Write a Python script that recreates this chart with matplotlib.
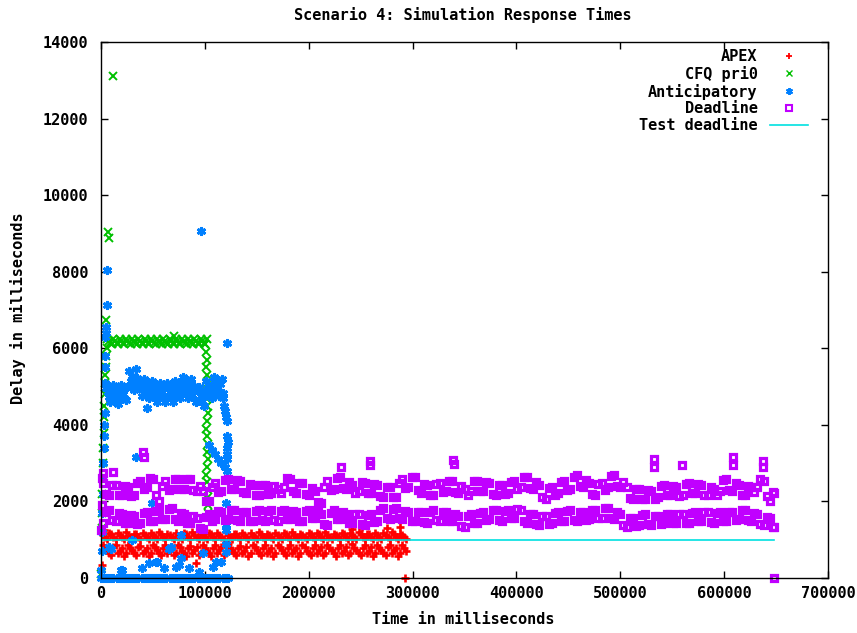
import numpy as np
import matplotlib
matplotlib.use('Agg')
from matplotlib import pyplot as plt
from matplotlib.lines import Line2D

# times are in thousands of milliseconds, delays in milliseconds

# APEX: two bands up to ~295 s, plus a few stragglers
apex_t_k = [2, 6, 10, 14, 18, 22, 26, 30, 34, 38,
            42, 46, 50, 54, 58, 62, 66, 70, 74, 78,
            82, 86, 90, 94, 98, 102, 106, 110, 114, 118,
            122, 126, 130, 134, 138, 142, 146, 150, 154, 158,
            162, 166, 170, 174, 178, 182, 186, 190, 194, 198,
            202, 206, 210, 214, 218, 222, 226, 230, 234, 238,
            242, 246, 250, 254, 258, 262, 266, 270, 274, 278,
            282, 286, 290, 294]
apex_lo = [860, 720, 590, 850, 700, 580, 870, 730, 600, 840,
           710, 570, 860, 720, 590, 850, 740, 600, 870, 710,
           580, 840, 730, 590, 860, 700, 570, 850, 720, 600,
           880, 730, 590, 840, 710, 580, 860, 720, 600, 850,
           700, 570, 870, 730, 590, 850, 720, 580, 860, 710,
           600, 870, 740, 590, 850, 720, 580, 860, 700, 590,
           880, 730, 600, 850, 710, 570, 860, 720, 590, 870,
           730, 580, 850, 700]
apex_hi = [1120, 1020, 1140, 1010, 1130, 1030, 1110, 1020, 1140, 1010,
           1130, 1020, 1120, 1030, 1140, 1010, 1130, 1020, 1110, 1030,
           1140, 1020, 1130, 1010, 1120, 1030, 1140, 1020, 1130, 1010,
           1120, 1030, 1140, 1020, 1130, 1010, 1110, 1030, 1140, 1020,
           1130, 1020, 1120, 1010, 1140, 1030, 1130, 1020, 1120, 1010,
           1140, 1030, 1150, 1020, 1130, 1010, 1120, 1030, 1140, 1020,
           1130, 1010, 1150, 1030, 1140, 1020, 1130, 1010, 1120, 1030,
           1140, 1020, 1130, 1010]
apex_t2_k = [4, 8, 12, 16, 20, 24, 28, 32, 36, 40,
             44, 48, 52, 56, 60, 64, 68, 72, 76, 80,
             84, 88, 92, 96, 100, 104, 108, 112, 116, 120,
             124, 128, 132, 136, 140, 144, 148, 152, 156, 160,
             164, 168, 172, 176, 180, 184, 188, 192, 196, 200,
             204, 208, 212, 216, 220, 224, 228, 232, 236, 240,
             244, 248, 252, 256, 260, 264, 268, 272, 276, 280,
             284, 288, 292]
apex_lo2 = [790, 650, 800, 640, 780, 660, 790, 650, 810, 640,
            780, 650, 800, 660, 790, 640, 780, 650, 800, 660,
            790, 640, 810, 650, 780, 660, 790, 650, 800, 640,
            790, 660, 780, 650, 800, 640, 810, 650, 790, 660,
            780, 640, 800, 650, 790, 660, 780, 650, 810, 640,
            790, 650, 800, 660, 780, 640, 790, 650, 800, 660,
            790, 640, 780, 650, 810, 660, 790, 640, 800, 650,
            780, 660, 790]
apex_hi2 = [1070, 1180, 1060, 1170, 1080, 1190, 1070, 1160, 1080, 1180,
            1060, 1170, 1070, 1190, 1080, 1160, 1070, 1180, 1060, 1170,
            1080, 1190, 1070, 1160, 1080, 1180, 1060, 1170, 1070, 1190,
            1080, 1160, 1070, 1180, 1060, 1170, 1080, 1190, 1070, 1160,
            1080, 1180, 1060, 1170, 1070, 1190, 1080, 1160, 1070, 1180,
            1060, 1170, 1080, 1190, 1070, 1160, 1080, 1180, 1060, 1170,
            1070, 1190, 1080, 1160, 1070, 1180, 1060, 1170, 1080, 1190,
            1070, 1160, 1080]
apex_out_t_k = [1, 3, 91, 241, 242, 251, 275, 288, 292.5]
apex_out_y = [350, 1250, 400, 1470, 1280, 1340, 1300, 1340, 0]

# CFQ pri0
cfq_rise_t_k = [0, 0.5, 1, 1, 1.5, 2, 2, 2.5, 3, 3, 3.5, 4, 4, 4.5, 5, 5.5]
cfq_rise_y = [100, 1300, 1700, 2200, 2600, 3000, 3400, 3800, 4200, 4500,
              4800, 5100, 5300, 5500, 5800, 6000]
cfq_top_t_k = [6, 9, 12, 15, 18, 21, 24, 27, 30, 33, 36, 39, 42, 45, 48, 51, 54,
               57, 60, 63, 66, 69, 70, 72, 75, 78, 81, 84, 87, 90, 93, 96, 99, 102]
cfq_top_y = [6240, 6140, 6240, 6140, 6240, 6140, 6240, 6140, 6240, 6140, 6240,
             6140, 6240, 6140, 6240, 6140, 6240, 6140, 6240, 6140, 6240, 6140,
             6320, 6240, 6140, 6240, 6140, 6240, 6140, 6240, 6140, 6240, 6140, 6240]
cfq_top2_t_k = [7.5, 10.5, 13.5, 16.5, 19.5, 22.5, 25.5, 28.5, 31.5, 34.5,
                37.5, 40.5, 43.5, 46.5, 49.5, 52.5, 55.5, 58.5, 61.5, 64.5,
                67.5, 70.5, 73.5, 76.5, 79.5, 82.5, 85.5, 88.5, 91.5, 94.5,
                97.5, 100.5]
cfq_top2_y = [6190, 6100, 6190, 6100, 6190, 6100, 6190, 6100, 6190, 6100,
              6190, 6100, 6190, 6100, 6190, 6100, 6190, 6100, 6190, 6100,
              6190, 6100, 6190, 6100, 6190, 6100, 6190, 6100, 6190, 6100,
              6190, 6100]
cfq_fall_t_k = [100, 101, 102, 101, 102, 103, 102, 101, 102, 103, 102, 101,
                102, 103, 102, 103, 102, 101, 102, 103, 102, 103, 103]
cfq_fall_y = [6100, 5900, 5700, 5500, 5300, 5100, 4900, 4700, 4500, 4300, 4100,
              3900, 3700, 3500, 3300, 3100, 2900, 2700, 2500, 2300, 2100, 1900, 1700]
cfq_out_t_k = [11.9, 6.8, 7.7, 4.8]
cfq_out_y = [13100, 9030, 8880, 6740]

# Anticipatory
ant_band_t_k = [4, 6.5, 9, 11.5, 14, 16.5, 19, 21.5, 24, 26.5,
                29, 31.5, 34, 36.5, 39, 41.5, 44, 46.5, 49, 51.5,
                54, 56.5, 59, 61.5, 64, 66.5, 69, 71.5, 74, 76.5,
                79, 81.5, 84, 86.5, 89, 91.5, 94, 96.5, 99, 101.5,
                104, 106.5, 109, 111.5, 114, 116.5]
ant_band_y = [5100, 4850, 4600, 5050, 4800, 4550, 5050, 4800, 4650, 5400,
              5150, 4900, 5450, 5100, 4750, 5200, 4950, 4700, 5150, 4850,
              4600, 5100, 4850, 4600, 5100, 4850, 4600, 5150, 4950, 4700,
              5250, 4950, 4700, 5200, 4900, 4600, 5000, 4750, 4500, 5150,
              4900, 4700, 5250, 5000, 4750, 5200]
ant_band2_t_k = [5, 7.5, 10, 12.5, 15, 17.5, 20, 22.5, 25, 27.5,
                 30, 32.5, 35, 37.5, 40, 42.5, 45, 47.5, 50, 52.5,
                 55, 57.5, 60, 62.5, 65, 67.5, 70, 72.5, 75, 77.5,
                 80, 82.5, 85, 87.5, 90, 92.5, 95, 97.5, 100, 102.5,
                 105, 107.5, 110, 112.5, 115, 117.5]
ant_band2_y = [4975, 4725, 4925, 4675, 4925, 4675, 4950, 4700, 5000, 5025,
               5275, 5025, 5225, 4975, 5075, 4825, 5075, 4825, 5000, 4750,
               4975, 4725, 4975, 4725, 4975, 4725, 5050, 4800, 5050, 4850,
               5100, 4850, 5100, 4775, 5025, 4625, 4875, 4625, 4900, 4775,
               5025, 4875, 5125, 4875, 5075, 4825]
ant_tail_t_k = [117, 118, 119, 120, 121, 121, 122, 104, 107, 110, 113, 116,
                119, 121, 121, 121, 121]
ant_tail_y = [4700, 4500, 4350, 4200, 4100, 3700, 3550, 3470, 3350, 3230, 3110,
              3000, 2900, 3400, 3250, 3100, 2800]
ant_col_t_k = [0, 0.5, 1, 1, 1.5, 2, 2, 2.5, 3, 3, 3.5, 3.5, 4, 4]
ant_col_y = [200, 700, 1200, 1700, 2200, 2600, 3000, 3400, 3700, 4000, 4300,
             5500, 5800, 6300]
ant_zero_t_k = [0, 3, 6, 9, 12, 15, 18, 21, 24, 27, 30, 33, 36, 39, 42, 45, 48,
                51, 54, 57, 60, 63, 66, 69, 72, 75, 78, 81, 84, 87, 90, 93, 96,
                99, 102, 105, 108, 111, 114, 117, 120, 122]
ant_zero_y = [0, 0, 0, 0, 0, 0, 0, 0, 0, 0, 0, 0, 0, 0, 0, 0, 0, 0, 0, 0, 0,
              0, 0, 0, 0, 0, 0, 0, 0, 0, 0, 0, 0, 0, 0, 0, 0, 0, 0, 0, 0, 0]
ant_low_t_k = [7.7, 9.3, 19, 20.6, 30.2, 33.4, 39.9, 46.3, 49.5, 52.8, 54.4,
               60.8, 65.6, 67, 72.1, 75, 76.9, 76.9, 84.9, 94.6, 97.8, 107.4,
               110.7, 115.5, 120.3, 120.3, 120.3, 120.3, 120.3]
ant_low_y = [820, 770, 210, 210, 990, 3170, 250, 380, 1950, 430, 430,
             250, 770, 820, 300, 340, 510, 1120, 250, 160, 640, 300,
             430, 430, 690, 900, 1250, 1380, 1950]
ant_out_t_k = [5.8, 5.8, 4.8, 4.8, 96.5, 121.6, 44.7]
ant_out_y = [8040, 7130, 6550, 6400, 9060, 6130, 4440]

# Deadline: two bands up to ~648 s
dl_t_k = [2, 8, 14, 20, 26, 32, 38, 44, 50, 56,
          62, 68, 74, 80, 86, 92, 98, 104, 110, 116,
          122, 128, 134, 140, 146, 152, 158, 164, 170, 176,
          182, 188, 194, 200, 206, 212, 218, 224, 230, 236,
          242, 248, 254, 260, 266, 272, 278, 284, 290, 296,
          302, 308, 314, 320, 326, 332, 338, 344, 350, 356,
          362, 368, 374, 380, 386, 392, 398, 404, 410, 416,
          422, 428, 434, 440, 446, 452, 458, 464, 470, 476,
          482, 488, 494, 500, 506, 512, 518, 524, 530, 536,
          542, 548, 554, 560, 566, 572, 578, 584, 590, 596,
          602, 608, 614, 620, 626, 632, 638, 644, 648]
dl_hi = [2480, 2170, 2430, 2170, 2380, 2170, 2530, 2370, 2580, 2020,
         2530, 2320, 2580, 2320, 2580, 2270, 2280, 2020, 2480, 2270,
         2580, 2320, 2530, 2220, 2430, 2170, 2430, 2220, 2330, 2370,
         2580, 2220, 2480, 2170, 2280, 1970, 2530, 2320, 2630, 2320,
         2430, 2270, 2480, 2220, 2430, 2120, 2380, 2120, 2580, 2370,
         2630, 2220, 2430, 2170, 2480, 2270, 2530, 2220, 2330, 2270,
         2530, 2270, 2480, 2170, 2430, 2220, 2530, 2370, 2630, 2320,
         2430, 2070, 2380, 2220, 2530, 2320, 2680, 2370, 2480, 2170,
         2480, 2370, 2680, 2370, 2380, 2070, 2330, 2070, 2280, 2120,
         2430, 2170, 2380, 2170, 2480, 2220, 2430, 2170, 2330, 2270,
         2580, 2270, 2430, 2170, 2380, 2370, 2530, 2020, 2230]
dl_lo = [1430, 1770, 1480, 1670, 1430, 1620, 1430, 1720, 1480, 1770,
         1530, 1820, 1480, 1670, 1430, 1570, 1280, 1670, 1530, 1720,
         1530, 1770, 1480, 1720, 1480, 1770, 1480, 1770, 1480, 1770,
         1530, 1720, 1480, 1770, 1580, 1670, 1380, 1770, 1530, 1670,
         1430, 1670, 1380, 1670, 1480, 1820, 1530, 1820, 1530, 1720,
         1480, 1720, 1430, 1770, 1480, 1720, 1480, 1620, 1330, 1670,
         1430, 1720, 1530, 1770, 1480, 1770, 1580, 1770, 1430, 1670,
         1380, 1620, 1430, 1720, 1480, 1770, 1480, 1720, 1530, 1770,
         1580, 1820, 1530, 1670, 1330, 1570, 1380, 1670, 1380, 1620,
         1430, 1670, 1430, 1670, 1430, 1720, 1480, 1720, 1430, 1720,
         1480, 1720, 1530, 1770, 1480, 1670, 1380, 1570, 1330]
dl_t2_k = [5, 11, 17, 23, 29, 35, 41, 47, 53, 59,
           65, 71, 77, 83, 89, 95, 101, 107, 113, 119,
           125, 131, 137, 143, 149, 155, 161, 167, 173, 179,
           185, 191, 197, 203, 209, 215, 221, 227, 233, 239,
           245, 251, 257, 263, 269, 275, 281, 287, 293, 299,
           305, 311, 317, 323, 329, 335, 341, 347, 353, 359,
           365, 371, 377, 383, 389, 395, 401, 407, 413, 419,
           425, 431, 437, 443, 449, 455, 461, 467, 473, 479,
           485, 491, 497, 503, 509, 515, 521, 527, 533, 539,
           545, 551, 557, 563, 569, 575, 581, 587, 593, 599,
           605, 611, 617, 623, 629, 635, 641, 647]
dl_hi2 = [2195, 2430, 2170, 2405, 2145, 2480, 2320, 2605, 2170, 2405,
          2295, 2580, 2320, 2580, 2295, 2405, 2020, 2380, 2245, 2555,
          2320, 2555, 2245, 2455, 2170, 2430, 2195, 2405, 2220, 2605,
          2270, 2480, 2195, 2355, 1995, 2380, 2295, 2605, 2345, 2505,
          2220, 2505, 2220, 2455, 2145, 2380, 2120, 2480, 2345, 2630,
          2295, 2455, 2170, 2455, 2245, 2530, 2245, 2405, 2170, 2530,
          2270, 2505, 2195, 2430, 2195, 2505, 2320, 2630, 2345, 2505,
          2120, 2355, 2170, 2505, 2295, 2630, 2395, 2555, 2195, 2455,
          2295, 2655, 2395, 2505, 2095, 2330, 2070, 2305, 2070, 2405,
          2170, 2405, 2145, 2455, 2220, 2455, 2170, 2380, 2170, 2555,
          2295, 2480, 2170, 2405, 2245, 2580, 2145, 2255]
dl_lo2 = [1720, 1505, 1695, 1430, 1645, 1405, 1695, 1480, 1745, 1530,
          1795, 1530, 1695, 1430, 1620, 1305, 1595, 1480, 1745, 1505,
          1770, 1505, 1720, 1480, 1745, 1505, 1745, 1505, 1745, 1530,
          1745, 1480, 1745, 1555, 1745, 1405, 1695, 1530, 1720, 1430,
          1670, 1405, 1645, 1455, 1770, 1555, 1795, 1555, 1745, 1480,
          1720, 1455, 1720, 1505, 1720, 1480, 1670, 1355, 1620, 1430,
          1695, 1505, 1770, 1505, 1745, 1555, 1795, 1480, 1670, 1405,
          1620, 1405, 1695, 1480, 1745, 1505, 1720, 1505, 1770, 1555,
          1820, 1555, 1720, 1380, 1570, 1355, 1645, 1405, 1620, 1405,
          1670, 1430, 1670, 1430, 1695, 1480, 1720, 1455, 1695, 1480,
          1720, 1505, 1770, 1505, 1695, 1405, 1595, 1330]
dl_out_t_k = [0, 0.5, 1, 1.5, 12, 40, 41, 231, 238, 259, 259, 339, 340,
              532, 532, 559, 609, 609, 637, 637, 648]
dl_out_y = [1250, 1900, 2600, 2750, 2770, 3300, 3150, 2900, 2350, 2950, 3050,
            3080, 2980, 3100, 2900, 2950, 3150, 2950, 3050, 2900, 0]

# Test deadline
test_t_k = [0, 648]
test_y = [1000, 1000]


def ms(*parts):
    return np.concatenate([np.asarray(p, dtype=float) for p in parts]) * 1000


def cat(*parts):
    return np.concatenate([np.asarray(p, dtype=float) for p in parts])


RED, GREEN, BLUE, PURPLE, CYAN = '#ff0000', '#00c000', '#0080ff', '#c000ff', '#00e0e0'
ASTER = (6, 2, 0)

FONT = dict(family='DejaVu Sans Mono', weight='bold', size=11)
plt.rcParams['font.family'] = 'DejaVu Sans Mono'
plt.rcParams['font.weight'] = 'bold'
plt.rcParams['font.size'] = 11

fig = plt.figure(figsize=(8.57, 6.33), dpi=100)
ax = fig.add_axes([101 / 857, 55 / 633, 727 / 857, 536 / 633])

ax.plot(ms(apex_t_k, apex_t_k, apex_t2_k, apex_t2_k, apex_out_t_k),
        cat(apex_lo, apex_hi, apex_lo2, apex_hi2, apex_out_y),
        ls='none', marker='+', ms=6, mew=1.9, color=RED, clip_on=False)
ax.plot(ms(cfq_rise_t_k, cfq_top_t_k, cfq_top2_t_k, cfq_fall_t_k, cfq_out_t_k),
        cat(cfq_rise_y, cfq_top_y, cfq_top2_y, cfq_fall_y, cfq_out_y),
        ls='none', marker='x', ms=5.5, mew=1.4, color=GREEN, clip_on=False)
ax.plot(ms(ant_band_t_k, ant_band2_t_k, ant_tail_t_k, ant_col_t_k, ant_zero_t_k,
           ant_low_t_k, ant_out_t_k),
        cat(ant_band_y, ant_band2_y, ant_tail_y, ant_col_y, ant_zero_y,
            ant_low_y, ant_out_y),
        ls='none', marker=ASTER, ms=6.5, mew=2.0, color=BLUE, clip_on=False)
ax.plot(ms(dl_t_k, dl_t_k, dl_t2_k, dl_t2_k, dl_out_t_k),
        cat(dl_hi, dl_lo, dl_hi2, dl_lo2, dl_out_y),
        ls='none', marker='s', ms=5, mew=2.3, mfc='none', mec=PURPLE,
        clip_on=False)
ax.plot(ms(test_t_k), test_y, color=CYAN, lw=1.2)

ax.set_xlim(0, 700000)
ax.set_ylim(0, 14000)
ax.set_xticks(np.arange(0, 700001, 100000))
ax.set_yticks(np.arange(0, 14001, 2000))
ax.tick_params(direction='in', length=5, width=1, top=True, right=True,
               labelsize=11)
ax.tick_params(axis='y', pad=9)
ax.tick_params(axis='x', pad=6)
for s in ax.spines.values():
    s.set_linewidth(1.0)

fig.text(463 / 857, 1 - 15 / 633, 'Scenario 4: Simulation Response Times',
         ha='center', va='center', **FONT)
fig.text(463 / 857, 1 - 620 / 633, 'Time in milliseconds',
         ha='center', va='center', **FONT)
fig.text(18 / 857, 1 - 308 / 633, 'Delay in milliseconds', rotation=90,
         ha='center', va='center', **FONT)

# legend keys are drawn at the small single-point size
handles = [
    Line2D([], [], ls='none', marker='+', ms=5, mew=1.3, color=RED),
    Line2D([], [], ls='none', marker='x', ms=4.5, mew=1.0, color=GREEN),
    Line2D([], [], ls='none', marker=ASTER, ms=5, mew=1.4, color=BLUE),
    Line2D([], [], ls='none', marker='s', ms=4, mew=1.5, mfc='none', mec=PURPLE),
    Line2D([], [], color=CYAN, lw=1.2),
]
labels = ['APEX', 'CFQ pri0', 'Anticipatory', 'Deadline', 'Test deadline']
ax.legend(handles, labels, loc='upper right',
          bbox_to_anchor=((808 - 101) / 727, (578 - 49) / 536),
          frameon=False, markerfirst=False, borderpad=0, borderaxespad=0,
          handlelength=2.5, handletextpad=0.8, labelspacing=0.12,
          prop=dict(family='DejaVu Sans Mono', weight='bold', size=11))

fig.savefig('out.png', dpi=100)
